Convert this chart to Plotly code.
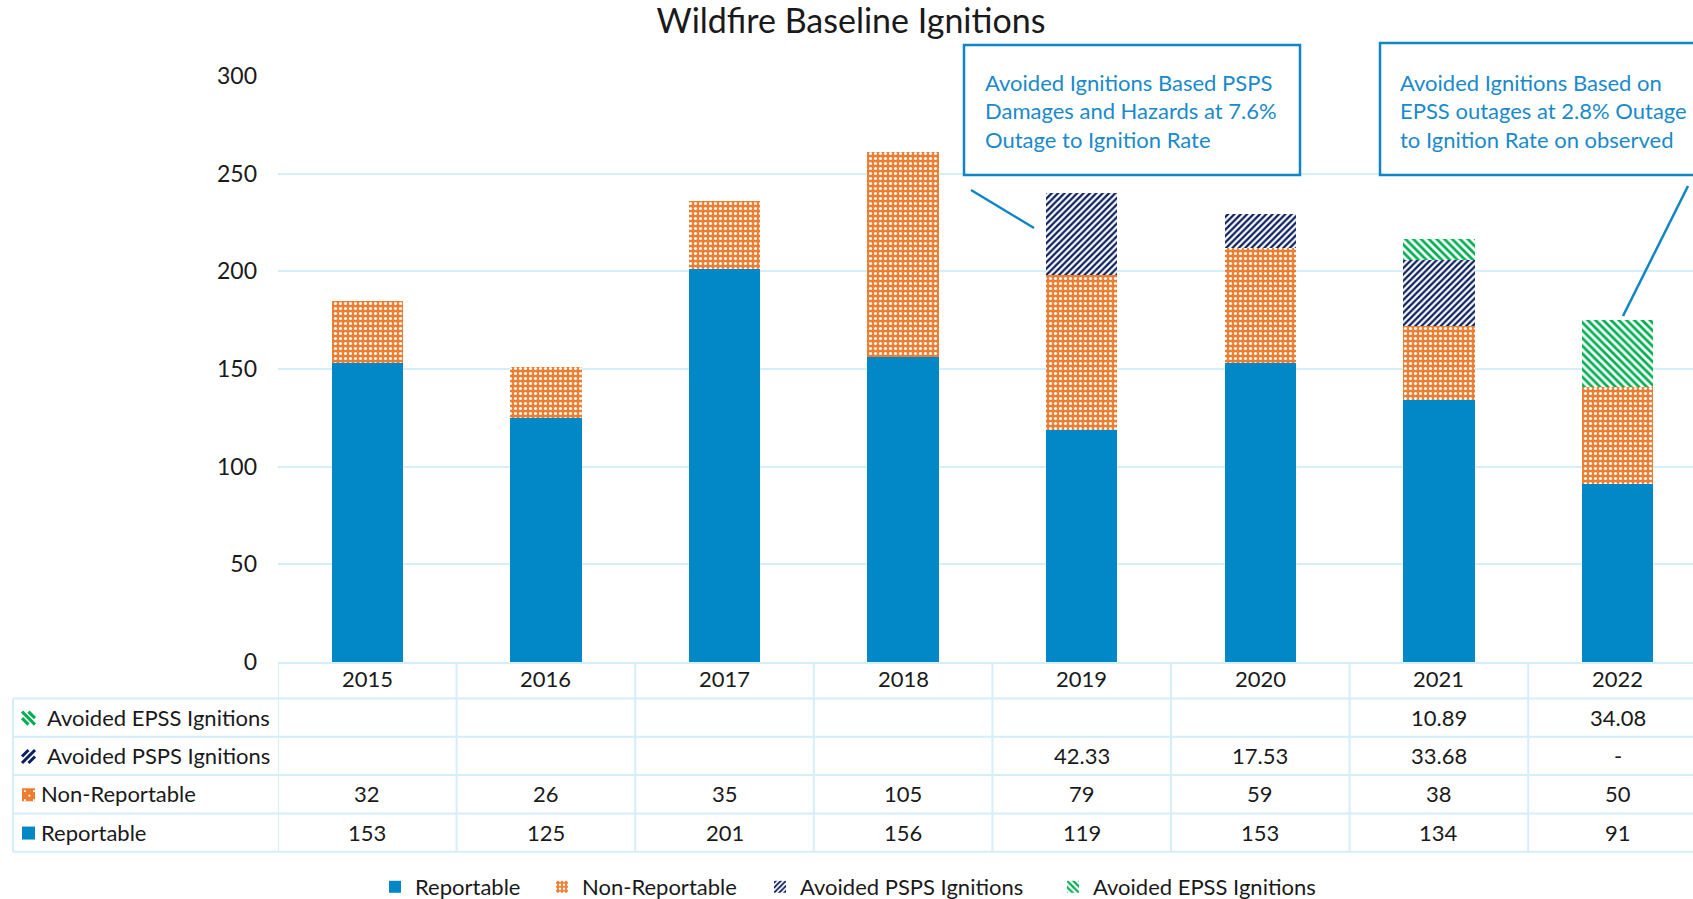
import plotly.graph_objects as go

# ---------------- data ----------------
years = ["2015", "2016", "2017", "2018", "2019", "2020", "2021", "2022"]
reportable = [153, 125, 201, 156, 119, 153, 134, 91]
non_reportable = [32, 26, 35, 105, 79, 59, 38, 50]
avoided_psps = [None, None, None, None, 42.33, 17.53, 33.68, 0]
avoided_epss = [None, None, None, None, None, None, 10.89, 34.08]
y_ticks = [0, 50, 100, 150, 200, 250, 300]

title_text = "Wildfire Baseline Ignitions"
series_names = ["Reportable", "Non-Reportable", "Avoided PSPS Ignitions", "Avoided EPSS Ignitions"]
note_psps = ["Avoided Ignitions Based PSPS", "Damages and Hazards at 7.6%", "Outage to Ignition Rate"]
note_epss = ["Avoided Ignitions Based on", "EPSS outages at 2.8% Outage", "to Ignition Rate on observed"]

# ---------------- styles ----------------
W, H = 1693, 899
FONT = "Lato"
TXT = "#1a1a1a"
BLUE = "#0288C6"
ORANGE = "#ED7D31"
NAVY = "#0B1F5E"
GREEN = "#00B050"
GRID = "#D4EEFA"
NOTE = "#1A8ACB"
TABLE_FS = 22

PLOT_L, PLOT_T, PLOT_B = 278, 76, 662
ROW_LINES = [698.5, 736.8, 775.1, 813.4, 851.7]
LEGEND_X = [375, 542, 760, 1053]


def X(px):
    return px / W


def Y(py):
    return 1 - py / H


def fmt(v):
    if v is None:
        return ""
    if v == 0:
        return "-"
    if float(v).is_integer():
        return str(int(v))
    return f"{v:.2f}"


fig = go.Figure()

legend_ids = ["legend", "legend2", "legend3", "legend4"]
fig.add_trace(go.Bar(x=years, y=reportable, name=series_names[0], legend=legend_ids[0],
                     showlegend=True,
                     marker=dict(color=BLUE, line=dict(width=0))))
fig.add_trace(go.Bar(x=years, y=non_reportable, name=series_names[1], legend=legend_ids[1],
                     showlegend=True,
                     marker=dict(color=ORANGE, line=dict(width=0),
                                 pattern=dict(shape=".", fgcolor="white", bgcolor=ORANGE,
                                              size=5, solidity=0.3, fillmode="replace"))))
fig.add_trace(go.Bar(x=years, y=avoided_psps, name=series_names[2], legend=legend_ids[2],
                     showlegend=True,
                     marker=dict(color=NAVY, line=dict(width=0),
                                 pattern=dict(shape="/", fgcolor=NAVY, bgcolor="white",
                                              size=4.5, solidity=0.5, fillmode="replace"))))
fig.add_trace(go.Bar(x=years, y=avoided_epss, name=series_names[3], legend=legend_ids[3],
                     showlegend=True,
                     marker=dict(color=GREEN, line=dict(width=0),
                                 pattern=dict(shape="\\", fgcolor=GREEN, bgcolor="white",
                                              size=5.5, solidity=0.5, fillmode="replace"))))

n = len(years)
cat_w = 178.6
x_end = 7.5 - (PLOT_L + cat_w * n - W) / cat_w

shapes = []
annotations = []

# table grid
line_style = dict(color=GRID, width=2)
for yl in ROW_LINES:
    shapes.append(dict(type="line", xref="paper", yref="paper", x0=X(13), x1=1.01,
                       y0=Y(yl), y1=Y(yl), line=line_style, layer="above"))
shapes.append(dict(type="line", xref="paper", yref="paper", x0=X(13), x1=X(13),
                   y0=Y(ROW_LINES[0]), y1=Y(ROW_LINES[-1]), line=line_style))
for k in range(n + 1):
    shapes.append(dict(type="line", xref="x", yref="paper", x0=k - 0.5, x1=k - 0.5,
                       y0=Y(PLOT_B), y1=Y(ROW_LINES[-1]), line=line_style))

# year header
for i, yr in enumerate(years):
    annotations.append(dict(x=i, xref="x", y=Y(678), yref="paper",
                            text=yr, showarrow=False, xanchor="center", yanchor="middle",
                            font=dict(family=FONT, size=TABLE_FS, color=TXT)))

rows = [
    (series_names[3], avoided_epss, 45),
    (series_names[2], avoided_psps, 45),
    (series_names[1], non_reportable, 39),
    (series_names[0], reportable, 39),
]
for r, (label, vals, tx) in enumerate(rows):
    yc = (ROW_LINES[r] + ROW_LINES[r + 1]) / 2 - 0.5
    annotations.append(dict(x=X(tx), xref="paper", y=Y(yc), yref="paper", text=label,
                            showarrow=False, xanchor="left", yanchor="middle",
                            font=dict(family=FONT, size=TABLE_FS, color=TXT)))
    for i, v in enumerate(vals):
        t = fmt(v)
        if t:
            annotations.append(dict(x=i, xref="x", y=Y(yc), yref="paper", text=t,
                                    showarrow=False, xanchor="center", yanchor="middle",
                                    font=dict(family=FONT, size=TABLE_FS, color=TXT)))
    # icon
    a, s = 22, 13
    b = yc - s / 2 + 1
    if label == series_names[0]:
        shapes.append(dict(type="rect", xref="paper", yref="paper", x0=X(a), x1=X(a + s),
                           y0=Y(b), y1=Y(b + s), fillcolor=BLUE, line=dict(width=0)))
    elif label == series_names[1]:
        shapes.append(dict(type="rect", xref="paper", yref="paper", x0=X(a), x1=X(a + s),
                           y0=Y(b), y1=Y(b + s), fillcolor=ORANGE, line=dict(width=0)))
        for di in range(3):
            for dj in range(3):
                if (di + dj) % 2 == 0:
                    cx, cy = a + 2 + di * 4.5, b + 2 + dj * 4.5
                    shapes.append(dict(type="rect", xref="paper", yref="paper",
                                       x0=X(cx), x1=X(cx + 1.8), y0=Y(cy), y1=Y(cy + 1.8),
                                       fillcolor="white", line=dict(width=0)))
    else:
        col = NAVY if label == series_names[2] else GREEN
        if label == series_names[2]:
            segs = [((a, b + s / 2), (a + s / 2, b)), ((a, b + s), (a + s, b)),
                    ((a + s / 2, b + s), (a + s, b + s / 2))]
        else:
            segs = [((a + s / 2, b), (a + s, b + s / 2)), ((a, b), (a + s, b + s)),
                    ((a, b + s / 2), (a + s / 2, b + s))]
        for (p0, p1) in segs:
            shapes.append(dict(type="line", xref="paper", yref="paper",
                               x0=X(p0[0]), y0=Y(p0[1]), x1=X(p1[0]), y1=Y(p1[1]),
                               line=dict(color=col, width=3)))

# note boxes
boxes = [((964, 45, 1300, 175), (983, [82, 110, 139]), note_psps, ((971, 190), (1034, 228))),
         ((1380, 43, 1710, 175), (1398, [82, 110, 139]), note_epss, ((1688, 186), (1623, 316)))]
for (x0, y0, x1, y1), (tx, tys), lines, (p0, p1) in boxes:
    shapes.append(dict(type="rect", xref="paper", yref="paper", x0=X(x0), x1=X(x1),
                       y0=Y(y0), y1=Y(y1), fillcolor="white",
                       line=dict(color="#0E86C6", width=2.5), layer="above"))
    for ln, ty in zip(lines, tys):
        annotations.append(dict(x=X(tx), xref="paper", y=Y(ty), yref="paper", text=ln,
                                showarrow=False, xanchor="left", yanchor="middle",
                                font=dict(family=FONT, size=22, color=NOTE)))
    shapes.append(dict(type="line", xref="paper", yref="paper", x0=X(p0[0]), y0=Y(p0[1]),
                       x1=X(p1[0]), y1=Y(p1[1]), line=dict(color="#0E86C6", width=2.5)))

legend_common = dict(orientation="h", y=Y(887), xanchor="left", yanchor="middle",
                     font=dict(family=FONT, size=TABLE_FS, color=TXT),
                     itemclick=False, itemdoubleclick=False, bgcolor="rgba(0,0,0,0)")
legends = {lid: dict(legend_common, x=X(lx)) for lid, lx in zip(legend_ids, LEGEND_X)}

fig.update_layout(
    width=W, height=H, autosize=False, showlegend=True,
    margin=dict(l=0, r=0, t=0, b=0, autoexpand=False),
    paper_bgcolor="white", plot_bgcolor="white",
    barmode="stack", bargap=0.6,
    font=dict(family=FONT, color=TXT),
    title=dict(text=title_text, x=X(851), y=Y(21), xanchor="center", yanchor="middle",
               font=dict(family=FONT, size=34, color=TXT)),
    xaxis=dict(domain=[X(PLOT_L), 1], range=[-0.5, x_end], showticklabels=False,
               showgrid=False, showline=True, linecolor=GRID, linewidth=2, ticks="",
               fixedrange=True, automargin=False),
    yaxis=dict(domain=[Y(PLOT_B), Y(PLOT_T)], range=[0, 300], tickvals=y_ticks,
               showgrid=True, gridcolor=GRID, gridwidth=2, zeroline=False, ticks="",
               ticklabelstandoff=20, tickfont=dict(family=FONT, size=23, color=TXT),
               fixedrange=True, automargin=False),
    shapes=shapes,
    annotations=annotations,
    **legends,
)

fig.write_html("out.html")
